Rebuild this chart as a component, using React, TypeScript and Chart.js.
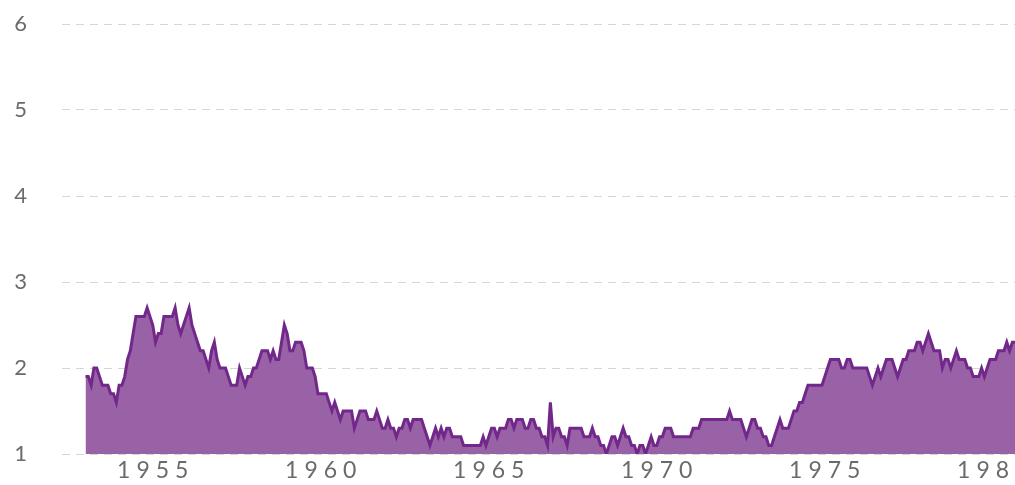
import React, { useEffect, useRef } from 'react';
import { Chart, registerables } from 'chart.js';

Chart.register(...registerables);

const startYear = 1953;

// Monthly values, January to December
const v1953 = [1.9, 1.9, 1.8, 2.0, 2.0, 1.9, 1.8, 1.8, 1.8, 1.7, 1.7, 1.6];
const v1954 = [1.8, 1.8, 1.9, 2.1, 2.2, 2.4, 2.6, 2.6, 2.6, 2.6, 2.7, 2.6];
const v1955 = [2.5, 2.3, 2.4, 2.4, 2.6, 2.6, 2.6, 2.6, 2.7, 2.5, 2.4, 2.5];
const v1956 = [2.6, 2.7, 2.5, 2.4, 2.3, 2.2, 2.2, 2.1, 2.0, 2.2, 2.3, 2.1];
const v1957 = [2.0, 2.0, 2.0, 1.9, 1.8, 1.8, 1.8, 2.0, 1.9, 1.8, 1.9, 1.9];
const v1958 = [2.0, 2.0, 2.1, 2.2, 2.2, 2.2, 2.1, 2.2, 2.1, 2.1, 2.3, 2.5];
const v1959 = [2.4, 2.2, 2.2, 2.3, 2.3, 2.3, 2.2, 2.0, 2.0, 2.0, 1.9, 1.7];
const v1960 = [1.7, 1.7, 1.7, 1.6, 1.5, 1.6, 1.5, 1.4, 1.5, 1.5, 1.5, 1.5];
const v1961 = [1.3, 1.4, 1.5, 1.5, 1.5, 1.4, 1.4, 1.4, 1.5, 1.4, 1.3, 1.3];
const v1962 = [1.4, 1.3, 1.3, 1.2, 1.3, 1.3, 1.4, 1.4, 1.3, 1.4, 1.4, 1.4];
const v1963 = [1.4, 1.3, 1.2, 1.1, 1.2, 1.3, 1.2, 1.3, 1.2, 1.3, 1.3, 1.2];
const v1964 = [1.2, 1.2, 1.2, 1.1, 1.1, 1.1, 1.1, 1.1, 1.1, 1.1, 1.2, 1.1];
const v1965 = [1.2, 1.3, 1.3, 1.2, 1.3, 1.3, 1.3, 1.4, 1.4, 1.3, 1.4, 1.4];
const v1966 = [1.4, 1.3, 1.3, 1.4, 1.4, 1.3, 1.3, 1.2, 1.2, 1.1, 1.6, 1.2];
const v1967 = [1.3, 1.3, 1.2, 1.2, 1.1, 1.3, 1.3, 1.3, 1.3, 1.3, 1.2, 1.2];
const v1968 = [1.2, 1.3, 1.2, 1.2, 1.1, 1.1, 1.0, 1.1, 1.2, 1.2, 1.1, 1.2];
const v1969 = [1.3, 1.2, 1.2, 1.1, 1.1, 1.0, 1.1, 1.1, 1.0, 1.1, 1.2, 1.1];
const v1970 = [1.1, 1.2, 1.2, 1.3, 1.3, 1.3, 1.2, 1.2, 1.2, 1.2, 1.2, 1.2];
const v1971 = [1.2, 1.3, 1.3, 1.3, 1.4, 1.4, 1.4, 1.4, 1.4, 1.4, 1.4, 1.4];
const v1972 = [1.4, 1.4, 1.5, 1.4, 1.4, 1.4, 1.4, 1.3, 1.2, 1.3, 1.4, 1.4];
const v1973 = [1.3, 1.3, 1.2, 1.2, 1.1, 1.1, 1.2, 1.3, 1.4, 1.3, 1.3, 1.3];
const v1974 = [1.4, 1.5, 1.5, 1.6, 1.6, 1.7, 1.8, 1.8, 1.8, 1.8, 1.8, 1.8];
const v1975 = [1.9, 2.0, 2.1, 2.1, 2.1, 2.1, 2.0, 2.0, 2.1, 2.1, 2.0, 2.0];
const v1976 = [2.0, 2.0, 2.0, 2.0, 1.9, 1.8, 1.9, 2.0, 1.9, 2.0, 2.1, 2.1];
const v1977 = [2.1, 2.0, 1.9, 2.0, 2.1, 2.1, 2.2, 2.2, 2.2, 2.3, 2.3, 2.2];
const v1978 = [2.3, 2.4, 2.3, 2.2, 2.2, 2.2, 2.0, 2.1, 2.1, 2.0, 2.1, 2.2];
const v1979 = [2.1, 2.1, 2.1, 2.0, 2.0, 1.9, 1.9, 1.9, 2.0, 1.9, 2.0, 2.1];
const v1980 = [2.1, 2.1, 2.2, 2.2, 2.2, 2.3, 2.2, 2.3, 2.3];

const values = [
  ...v1953, ...v1954, ...v1955, ...v1956, ...v1957, ...v1958, ...v1959,
  ...v1960, ...v1961, ...v1962, ...v1963, ...v1964, ...v1965, ...v1966,
  ...v1967, ...v1968, ...v1969, ...v1970, ...v1971, ...v1972, ...v1973,
  ...v1974, ...v1975, ...v1976, ...v1977, ...v1978, ...v1979, ...v1980,
];

const xTickYears = [1955, 1960, 1965, 1970, 1975, 1980];
const yTickValues = [1, 2, 3, 4, 5, 6];

const W = 1060;
const H = 485;

const spacingPlugin = {
  id: 'letterSpacing',
  beforeLayout(chart: any) {
    chart.ctx.letterSpacing = '6px';
  },
  beforeDraw(chart: any) {
    chart.ctx.letterSpacing = '6px';
  },
  afterDraw(chart: any) {
    chart.ctx.letterSpacing = '0px';
  },
};

export default function App() {
  const ref = useRef<HTMLCanvasElement>(null);

  useEffect(() => {
    if (!ref.current) return;
    const points = values.map((v, i) => ({ x: startYear + i / 12, y: v }));
    const chart = new Chart(ref.current, {
      type: 'line',
      data: {
        datasets: [
          {
            data: points,
            borderColor: '#71288a',
            backgroundColor: '#9a62a6',
            fill: 'start',
            borderWidth: 3,
            pointRadius: 0,
            tension: 0,
          },
        ],
      },
      options: {
        animation: false,
        responsive: false,
        events: [],
        layout: { padding: { top: 24, left: 0, right: 0, bottom: 0 } },
        plugins: {
          legend: { display: false },
          tooltip: { enabled: false },
        },
        scales: {
          x: {
            type: 'linear',
            min: 1952.3,
            max: 1982,
            grid: { display: false, drawTicks: false },
            border: { display: false },
            afterBuildTicks: (s: any) => {
              s.ticks = xTickYears.map((v) => ({ value: v }));
            },
            afterFit: (s: any) => {
              s.height = 31;
              s.paddingLeft = 0;
              s.paddingRight = 0;
            },
            ticks: {
              font: { family: 'Lato', size: 23 },
              color: '#6a6a6a',
              padding: 3,
              labelOffset: 3,
              autoSkip: false,
              maxRotation: 0,
              callback: (v: any) => String(v),
            },
          },
          y: {
            type: 'linear',
            min: 1,
            max: 6,
            afterBuildTicks: (s: any) => {
              s.ticks = yTickValues.map((v) => ({ value: v }));
            },
            afterFit: (s: any) => {
              s.width = 62;
              s.paddingTop = 0;
              s.paddingBottom = 0;
            },
            grid: { color: '#d6d6d6', drawTicks: false, lineWidth: 1 },
            border: { display: false, dash: [8, 6] },
            ticks: {
              font: { family: 'Lato', size: 22 },
              color: '#6a6a6a',
              padding: 29,
              callback: (v: any) => String(v),
            },
          },
        },
      },
      plugins: [spacingPlugin],
    });
    return () => chart.destroy();
  }, []);

  return (
    <div style={{ position: 'fixed', left: 0, top: 0, width: W, height: H, background: '#fff' }}>
      <canvas ref={ref} width={W} height={H} style={{ width: W + 'px', height: H + 'px', display: 'block' }} />
    </div>
  );
}
